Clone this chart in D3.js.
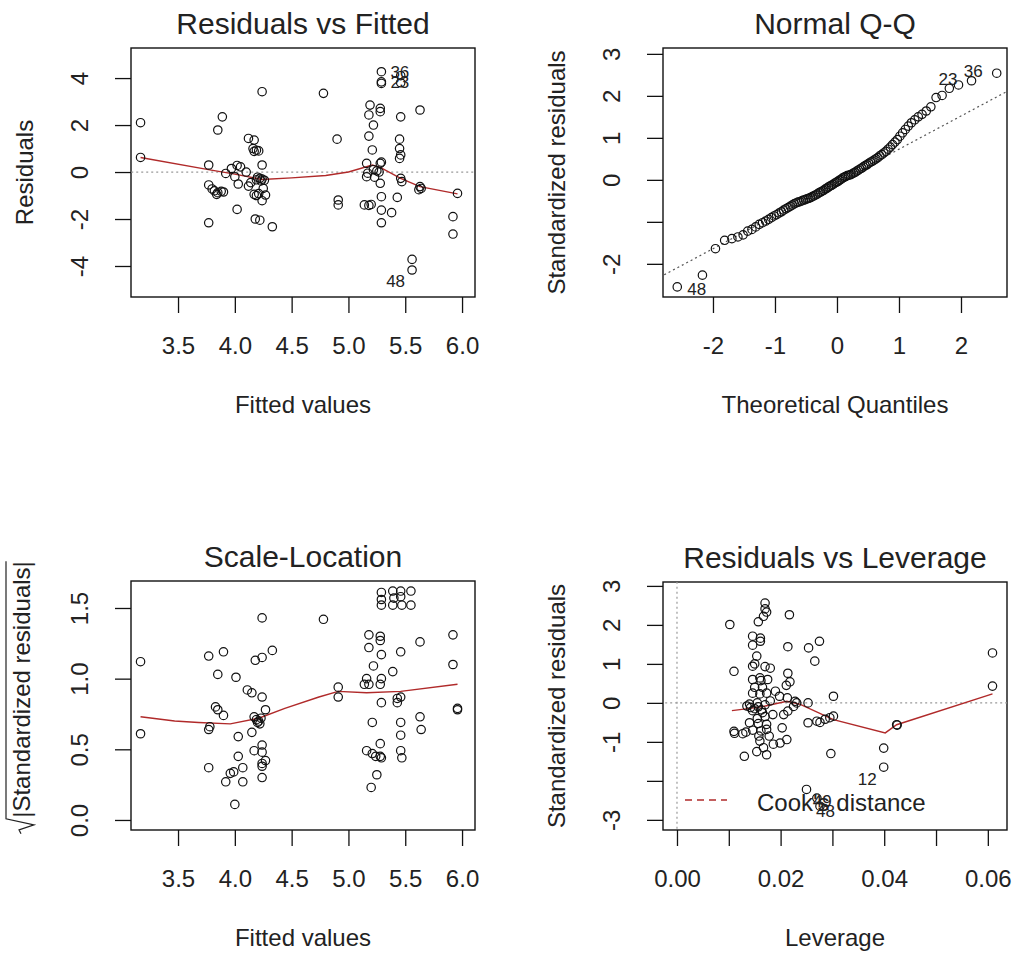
<!DOCTYPE html>
<html>
<head>
<meta charset="utf-8">
<script src="https://cdn.jsdelivr.net/npm/d3@7"></script>
<style>
  body { margin: 0; background: #fff; }
  svg text { font-family: "Liberation Sans", Arial, sans-serif; fill: #222; }
</style>
</head>
<body>
<svg id="chart" width="1012" height="956"></svg>
<script>
// ---- Residuals vs Fitted ----
const rvfFitted = [3.17, 3.17,
  3.89, 3.85, 3.77, 3.77, 3.80, 3.82, 3.85, 3.88, 3.90, 3.84, 3.77,
  3.92, 3.97, 4.02, 4.05, 4.03, 4.02, 4.00, 4.10,
  4.12, 4.17, 4.16, 4.19, 4.17, 4.21, 4.24, 4.24, 4.20, 4.22, 4.24, 4.26, 4.23, 4.19, 4.14, 4.12, 4.17, 4.19, 4.21, 4.27, 4.24, 4.18, 4.22, 4.33, 4.25,
  4.78, 4.90, 4.91, 4.91,
  5.19, 5.28, 5.28, 5.18, 5.22, 5.18, 5.21, 5.16, 5.28, 5.29, 5.22, 5.25, 5.16, 5.23, 5.28, 5.29, 5.14, 5.18, 5.20, 5.29, 5.29, 5.29, 5.29, 5.29, 5.17, 5.27,
  5.38, 5.43, 5.46, 5.46, 5.46, 5.45, 5.45, 5.46, 5.45, 5.46, 5.47,
  5.63, 5.63, 5.64, 5.62, 5.56, 5.56,
  5.96, 5.92, 5.92];
const rvfResid = [2.10, 0.62,
  2.35, 1.79, 0.30, -0.55, -0.72, -0.80, -0.88, -0.82, -0.85, -0.95, -2.16,
  -0.06, 0.15, 0.28, 0.22, -0.51, -1.59, -0.20, 0.00,
  1.43, 1.36, 1.00, 0.93, 0.88, 0.90, 3.42, 0.30, -0.22, -0.27, -0.30, -0.35, -0.38, -0.33, -0.45, -0.60, -0.95, -1.00, -0.92, -0.98, -1.22, -2.00, -2.05, -2.33, -0.70,
  3.35, 1.40, -1.19, -1.40,
  2.85, 2.71, 2.57, 2.43, 2.00, 1.53, 0.94, 0.37, 0.37, 0.42, 0.10, 0.05, -0.20, -0.22, -0.48, -1.05, -1.40, -1.42, -1.38, -1.62, -2.16, 4.27, 3.84, 3.77, -0.05, 0.00,
  -1.73, -1.08, 4.10, 3.80, 2.35, 1.40, 1.00, 0.73, 0.58, -0.27, -0.41,
  2.64, -0.62, -0.70, -0.75, -3.72, -4.17,
  -0.91, -1.90, -2.64];
const rvfSmoothX = [3.17, 3.78, 4.00, 4.24, 4.50, 4.80, 5.00, 5.21, 5.28, 5.46, 5.63, 5.96];
const rvfSmoothY = [0.62, 0.09, -0.09, -0.32, -0.25, -0.15, 0.00, 0.30, 0.20, -0.27, -0.62, -0.93];
const rvfIds = ['36', '23', '48'];
const rvfIdX = [5.29, 5.29, 5.56];
const rvfIdY = [4.27, 3.84, -4.17];

// ---- Normal Q-Q ----
const qqTheoretical = [
  -2.576, -2.170, -1.960, -1.812, -1.695, -1.598, -1.514, -1.440, -1.372, -1.311,
  -1.254, -1.200, -1.150, -1.103, -1.058, -1.015, -0.974, -0.935, -0.896, -0.860,
  -0.824, -0.789, -0.755, -0.722, -0.690, -0.659, -0.628, -0.598, -0.568, -0.539,
  -0.510, -0.482, -0.454, -0.426, -0.399, -0.372, -0.345, -0.319, -0.292, -0.266,
  -0.240, -0.215, -0.189, -0.164, -0.138, -0.113, -0.088, -0.063, -0.038, -0.013,
  0.013, 0.038, 0.063, 0.088, 0.113, 0.138, 0.164, 0.189, 0.215, 0.240,
  0.266, 0.292, 0.319, 0.345, 0.372, 0.399, 0.426, 0.454, 0.482, 0.510,
  0.539, 0.568, 0.598, 0.628, 0.659, 0.690, 0.722, 0.755, 0.789, 0.824,
  0.860, 0.896, 0.935, 0.974, 1.015, 1.058, 1.103, 1.150, 1.200, 1.254,
  1.311, 1.372, 1.440, 1.514, 1.598, 1.695, 1.812, 1.960, 2.170, 2.576];
const qqSample = [
  -2.55, -2.27, -1.64, -1.44, -1.40, -1.36, -1.31, -1.22, -1.18, -1.12,
  -1.06, -1.02, -0.98, -0.94, -0.90, -0.86, -0.83, -0.79, -0.76, -0.72,
  -0.69, -0.66, -0.63, -0.60, -0.57, -0.55, -0.53, -0.52, -0.50, -0.48,
  -0.47, -0.45, -0.44, -0.42, -0.40, -0.38, -0.36, -0.34, -0.31, -0.29,
  -0.27, -0.25, -0.22, -0.20, -0.17, -0.15, -0.13, -0.11, -0.08, -0.06,
  -0.04, -0.01, 0.01, 0.04, 0.06, 0.08, 0.10, 0.11, 0.12, 0.14,
  0.16, 0.18, 0.21, 0.23, 0.26, 0.28, 0.31, 0.34, 0.36, 0.39,
  0.42, 0.44, 0.47, 0.50, 0.53, 0.57, 0.60, 0.64, 0.68, 0.73,
  0.78, 0.84, 0.90, 0.96, 1.04, 1.12, 1.20, 1.28, 1.36, 1.43,
  1.50, 1.56, 1.64, 1.74, 1.96, 2.01, 2.18, 2.26, 2.36, 2.54];
const qqLineIntercept = -0.06;
const qqLineSlope = 0.79;
const qqIds = ['48', '23', '36'];
const qqIdX = [-2.576, 2.170, 2.576];
const qqIdY = [-2.55, 2.36, 2.54];

// ---- Scale-Location ----
const slFitted = [3.17, 3.17,
  3.77, 3.90, 3.85, 4.01, 4.11, 4.15, 4.24, 4.18, 4.24, 4.33, 4.24,
  3.83, 3.85, 3.90, 3.77, 3.78, 4.03,
  4.17, 4.19, 4.21, 4.23, 4.20, 4.22, 4.27, 4.15,
  4.24, 4.17, 4.24, 4.27, 4.24, 4.24, 4.24, 4.03, 4.07, 3.77, 3.96, 3.99, 3.92, 4.07, 4.00,
  4.78, 4.91, 4.91,
  5.18, 5.28, 5.28, 5.18, 5.29, 5.22, 5.16, 5.29, 5.14, 5.18, 5.28, 5.29, 5.21, 5.28, 5.16, 5.21, 5.24, 5.28, 5.29, 5.25, 5.20,
  5.39, 5.46, 5.63, 5.43, 5.46, 5.43, 5.46, 5.46, 5.46, 5.47, 5.63, 5.64,
  5.29, 5.29, 5.29, 5.39, 5.46, 5.55, 5.40, 5.46, 5.47, 5.55, 5.39,
  5.92, 5.92, 5.96, 5.96];
const slRoot = [1.12, 0.61,
  1.16, 1.19, 1.03, 1.01, 0.92, 0.90, 0.87, 1.13, 1.15, 1.20, 1.43,
  0.80, 0.78, 0.74, 0.64, 0.66, 0.59,
  0.73, 0.71, 0.70, 0.72, 0.69, 0.68, 0.78, 0.62,
  0.53, 0.49, 0.48, 0.42, 0.40, 0.38, 0.30, 0.45, 0.37, 0.37, 0.33, 0.34, 0.27, 0.27, 0.11,
  1.42, 0.94, 0.87,
  1.31, 1.30, 1.27, 1.22, 1.17, 1.09, 1.00, 1.00, 0.96, 0.96, 0.96, 0.83, 0.69, 0.54, 0.49, 0.47, 0.45, 0.45, 0.44, 0.32, 0.23,
  1.05, 1.19, 1.26, 0.86, 0.87, 0.83, 0.69, 0.60, 0.49, 0.44, 0.73, 0.64,
  1.61, 1.56, 1.52, 1.62, 1.62, 1.62, 1.57, 1.58, 1.52, 1.52, 1.52,
  1.31, 1.10, 0.79, 0.78];
const slSmoothX = [3.17, 3.47, 3.68, 3.96, 4.21, 4.44, 4.74, 4.91, 5.16, 5.46, 5.96];
const slSmoothY = [0.73, 0.70, 0.69, 0.68, 0.72, 0.79, 0.87, 0.91, 0.90, 0.91, 0.96];

// ---- Residuals vs Leverage ----
const rvlLeverage = [0.0102, 0.0110, 0.0110, 0.0111, 0.0127, 0.0133, 0.0130, 0.0154, 0.0173,
  0.0170, 0.0170, 0.0173, 0.0157, 0.0167, 0.0146, 0.0161, 0.0161, 0.0146, 0.0154, 0.0146, 0.0170, 0.0180, 0.0160, 0.0146, 0.0162, 0.0175, 0.0146, 0.0160, 0.0173,
  0.0135, 0.0142, 0.0150, 0.0157, 0.0163, 0.0170, 0.0146, 0.0140, 0.0155, 0.0165,
  0.0140, 0.0157, 0.0173, 0.0146, 0.0162, 0.0173, 0.0160, 0.0167, 0.0186, 0.0199, 0.0212,
  0.0150, 0.0165, 0.0155, 0.0170, 0.0180, 0.0185, 0.0190, 0.0150, 0.0158, 0.0178,
  0.0203, 0.0206, 0.0198, 0.0213, 0.0211, 0.0218, 0.0214, 0.0214, 0.0217, 0.0225, 0.0228, 0.0231, 0.0214,
  0.0253, 0.0253, 0.0254, 0.0275, 0.0266, 0.0270, 0.0276, 0.0286, 0.0295, 0.0302, 0.0302, 0.0297,
  0.0250, 0.0270, 0.0276,
  0.0399, 0.0399, 0.0424, 0.0425, 0.0609, 0.0609];
const rvlStdResid = [2.01, 0.81, -0.73, -0.78, -0.79, -0.75, -1.37, -1.25, -1.33,
  2.56, 2.41, 2.33, 2.08, 2.22, 1.71, 1.66, 1.58, 1.48, 1.20, 0.94, 0.93, 0.89, 0.64, 0.60, 0.57, 0.60, 0.25, 0.23, 0.25,
  -0.08, -0.12, -0.15, -0.10, -0.18, -0.05, -0.20, -0.03, 0.00, -0.25,
  -0.51, -0.53, -0.55, -0.70, -0.72, -0.68, -0.98, -1.15, -1.06, -1.03, -0.94,
  0.40, 0.40, -0.40, -0.35, 0.05, -0.30, 0.30, 1.00, -0.85, -0.85,
  -0.64, -0.30, 0.17, 0.13, 0.45, 0.54, 0.76, 1.44, 2.26, -0.09, 0.04, 0.00, -0.21,
  0.00, -0.51, 1.41, 1.58, 1.07, -0.47, -0.50, -0.42, -0.38, -0.34, 0.17, -1.30,
  -2.22, -2.44, -2.65,
  -1.16, -1.65, -0.56, -0.57, 1.28, 0.43];
const rvlSmoothX = [0.0106, 0.0160, 0.0212, 0.0238, 0.0302, 0.0402, 0.0424, 0.0609];
const rvlSmoothY = [-0.20, -0.11, 0.04, -0.04, -0.43, -0.77, -0.56, 0.23];
const rvlIds = ['12', '49', '48'];
const rvlIdX = [0.0399, 0.0270, 0.0276];
const rvlIdY = [-1.65, -2.44, -2.65];

// tick values
const fittedTicks = [3.5, 4.0, 4.5, 5.0, 5.5, 6.0];
const residTicks = [-4, -2, 0, 2, 4];
const qqXTicks = [-2, -1, 0, 1, 2];
const qqYTicks = [-2, -1, 0, 1, 2, 3];
const rootTicks = [0.0, 0.5, 1.0, 1.5];
const levTicks = [0.00, 0.01, 0.02, 0.03, 0.04, 0.05, 0.06];
const stdTicks = [-3, -2, -1, 0, 1, 2, 3];

const svg = d3.select('#chart');
const RED = '#b02a2a';
let clipCount = 0;

function zip(a, b) { return a.map((v, i) => [v, b[i]]); }

function panel(o) {
    const x = d3.scaleLinear().domain(o.xDomain).range([o.left, o.right]);
    const y = d3.scaleLinear().domain(o.yDomain).range([o.bottom, o.top]);
    const g = svg.append('g');

    const clipId = 'clip' + (clipCount++);
    svg.append('clipPath').attr('id', clipId).append('rect')
        .attr('x', o.left).attr('y', o.top)
        .attr('width', o.right - o.left).attr('height', o.bottom - o.top);

    const xa = g.append('g').attr('transform', `translate(0,${o.bottom})`)
        .call(d3.axisBottom(x).tickValues(o.xTicks).tickSize(16).tickSizeOuter(0)
            .tickPadding(24).tickFormat(o.xFormat));
    const ya = g.append('g').attr('transform', `translate(${o.left},0)`)
        .call(d3.axisLeft(y).tickValues(o.yTicks).tickSize(16).tickSizeOuter(0)
            .tickFormat(o.yFormat));
    for (const a of [xa, ya]) {
        a.attr('font-size', 24);
        a.select('.domain').remove();
        a.selectAll('.tick line').attr('stroke', '#111').attr('stroke-width', 1.3);
    }
    // R style: y labels parallel to the axis
    ya.selectAll('.tick text')
        .attr('transform', 'rotate(-90)')
        .attr('x', 0).attr('y', -43).attr('dy', 0)
        .attr('text-anchor', 'middle');

    g.append('rect')
        .attr('x', o.left).attr('y', o.top)
        .attr('width', o.right - o.left).attr('height', o.bottom - o.top)
        .attr('fill', 'none').attr('stroke', '#111').attr('stroke-width', 1.4);

    g.append('text')
        .attr('x', (o.left + o.right) / 2).attr('y', o.top - 14)
        .attr('text-anchor', 'middle').attr('font-size', 30)
        .text(o.title);
    g.append('text')
        .attr('x', (o.left + o.right) / 2).attr('y', o.bottom + 116)
        .attr('text-anchor', 'middle').attr('font-size', 24)
        .text(o.xLabel);
    if (o.yLabel) {
        g.append('text')
            .attr('transform', `translate(${o.left - 98},${(o.top + o.bottom) / 2}) rotate(-90)`)
            .attr('text-anchor', 'middle').attr('font-size', 24)
            .text(o.yLabel);
    }

    const inner = g.append('g').attr('clip-path', `url(#${clipId})`);
    return { x, y, g, inner };
}

function dotted(p, x1, y1, x2, y2) {
    p.inner.append('line')
        .attr('x1', p.x(x1)).attr('y1', p.y(y1)).attr('x2', p.x(x2)).attr('y2', p.y(y2))
        .attr('stroke', '#999').attr('stroke-width', 1.2).attr('stroke-dasharray', '2,3');
}

function points(p, data) {
    p.g.append('g').selectAll('circle').data(data).join('circle')
        .attr('cx', d => p.x(d[0])).attr('cy', d => p.y(d[1])).attr('r', 4.2)
        .attr('fill', 'none').attr('stroke', '#111').attr('stroke-width', 1.2);
}

function smooth(p, data) {
    p.inner.append('path').datum(data)
        .attr('d', d3.line().x(d => p.x(d[0])).y(d => p.y(d[1])))
        .attr('fill', 'none').attr('stroke', RED).attr('stroke-width', 1.4);
}

function ids(p, names, xs, ys, dx, dy, anchor) {
    p.g.append('g').selectAll('text').data(names).join('text')
        .attr('x', (d, i) => p.x(xs[i]) + dx[i]).attr('y', (d, i) => p.y(ys[i]) + dy[i])
        .attr('text-anchor', (d, i) => anchor[i]).attr('font-size', 17)
        .text(d => d);
}

const fmt1 = d3.format('.1f');
const fmtInt = d => String(d).replace('-', '-');

// 1: Residuals vs Fitted
const p1 = panel({
    left: 131, right: 475, top: 48, bottom: 297,
    xDomain: [3.086, 6.114], yDomain: [-5.32, 5.28],
    xTicks: fittedTicks, yTicks: residTicks, xFormat: fmt1, yFormat: fmtInt,
    title: 'Residuals vs Fitted', xLabel: 'Fitted values', yLabel: 'Residuals'
});
dotted(p1, 3.0, 0, 6.2, 0);
points(p1, zip(rvfFitted, rvfResid));
smooth(p1, zip(rvfSmoothX, rvfSmoothY));
ids(p1, rvfIds, rvfIdX, rvfIdY, [9, 9, -7], [6, 6, 17], ['start', 'start', 'end']);

// 2: Normal Q-Q
const p2 = panel({
    left: 663, right: 1007, top: 48, bottom: 297,
    xDomain: [-2.806, 2.742], yDomain: [-2.79, 3.14],
    xTicks: qqXTicks, yTicks: qqYTicks, xFormat: fmtInt,
    yFormat: d => (d === -1 ? '' : fmtInt(d)),
    title: 'Normal Q-Q', xLabel: 'Theoretical Quantiles', yLabel: 'Standardized residuals'
});
p2.inner.append('line')
    .attr('x1', p2.x(-3)).attr('y1', p2.y(qqLineIntercept - 3 * qqLineSlope))
    .attr('x2', p2.x(3)).attr('y2', p2.y(qqLineIntercept + 3 * qqLineSlope))
    .attr('stroke', '#555').attr('stroke-width', 1.2).attr('stroke-dasharray', '2,3');
points(p2, zip(qqTheoretical, qqSample));
ids(p2, qqIds, qqIdX, qqIdY, [10, -14, -14], [8, 4, 4], ['start', 'end', 'end']);

// 3: Scale-Location
const p3 = panel({
    left: 131, right: 475, top: 581, bottom: 830,
    xDomain: [3.086, 6.114], yDomain: [-0.071, 1.691],
    xTicks: fittedTicks, yTicks: rootTicks, xFormat: fmt1, yFormat: fmt1,
    title: 'Scale-Location', xLabel: 'Fitted values', yLabel: null
});
points(p3, zip(slFitted, slRoot));
smooth(p3, zip(slSmoothX, slSmoothY));

// sqrt(|Standardized residuals|) label with a radical sign
const yl = svg.append('g')
    .attr('transform', `translate(${p3_left = 131 - 101},${(581 + 830) / 2 - 8}) rotate(-90)`);
const ylText = yl.append('text').attr('font-size', 24).attr('text-anchor', 'start')
    .text('|Standardized residuals|');
const ylW = ylText.node().getComputedTextLength();
const ylStart = -(ylW + 16) / 2;
ylText.attr('x', ylStart + 16);
yl.append('path')
    .attr('d', `M${ylStart},-9 L${ylStart + 4},-11 L${ylStart + 9},4 L${ylStart + 15},-24 L${ylStart + 16 + ylW},-24`)
    .attr('fill', 'none').attr('stroke', '#222').attr('stroke-width', 1.2);

// 4: Residuals vs Leverage
const p4 = panel({
    left: 663, right: 1007, top: 582, bottom: 830,
    xDomain: [-0.0027, 0.0637], yDomain: [-3.26, 3.10],
    xTicks: levTicks, yTicks: stdTicks,
    xFormat: d => ([0, 0.02, 0.04, 0.06].some(v => Math.abs(v - d) < 1e-9) ? d3.format('.2f')(d) : ''),
    yFormat: d => (d === -2 ? '' : fmtInt(d)),
    title: 'Residuals vs Leverage', xLabel: 'Leverage', yLabel: 'Standardized residuals'
});
dotted(p4, 0, -4, 0, 4);
dotted(p4, -0.01, 0, 0.07, 0);
points(p4, zip(rvlLeverage, rvlStdResid));
smooth(p4, zip(rvlSmoothX, rvlSmoothY));
ids(p4, rvlIds, rvlIdX, rvlIdY, [-7, -4, -4], [18, 9, 11], ['end', 'start', 'start']);

// legend
const lg = p4.g.append('g');
lg.append('line').attr('x1', 685).attr('x2', 727).attr('y1', 800).attr('y2', 800)
    .attr('stroke', RED).attr('stroke-width', 1.4).attr('stroke-dasharray', '7,5');
lg.append('text').attr('x', 757).attr('y', 811).attr('font-size', 24).text("Cook's distance");
</script>
</body>
</html>
